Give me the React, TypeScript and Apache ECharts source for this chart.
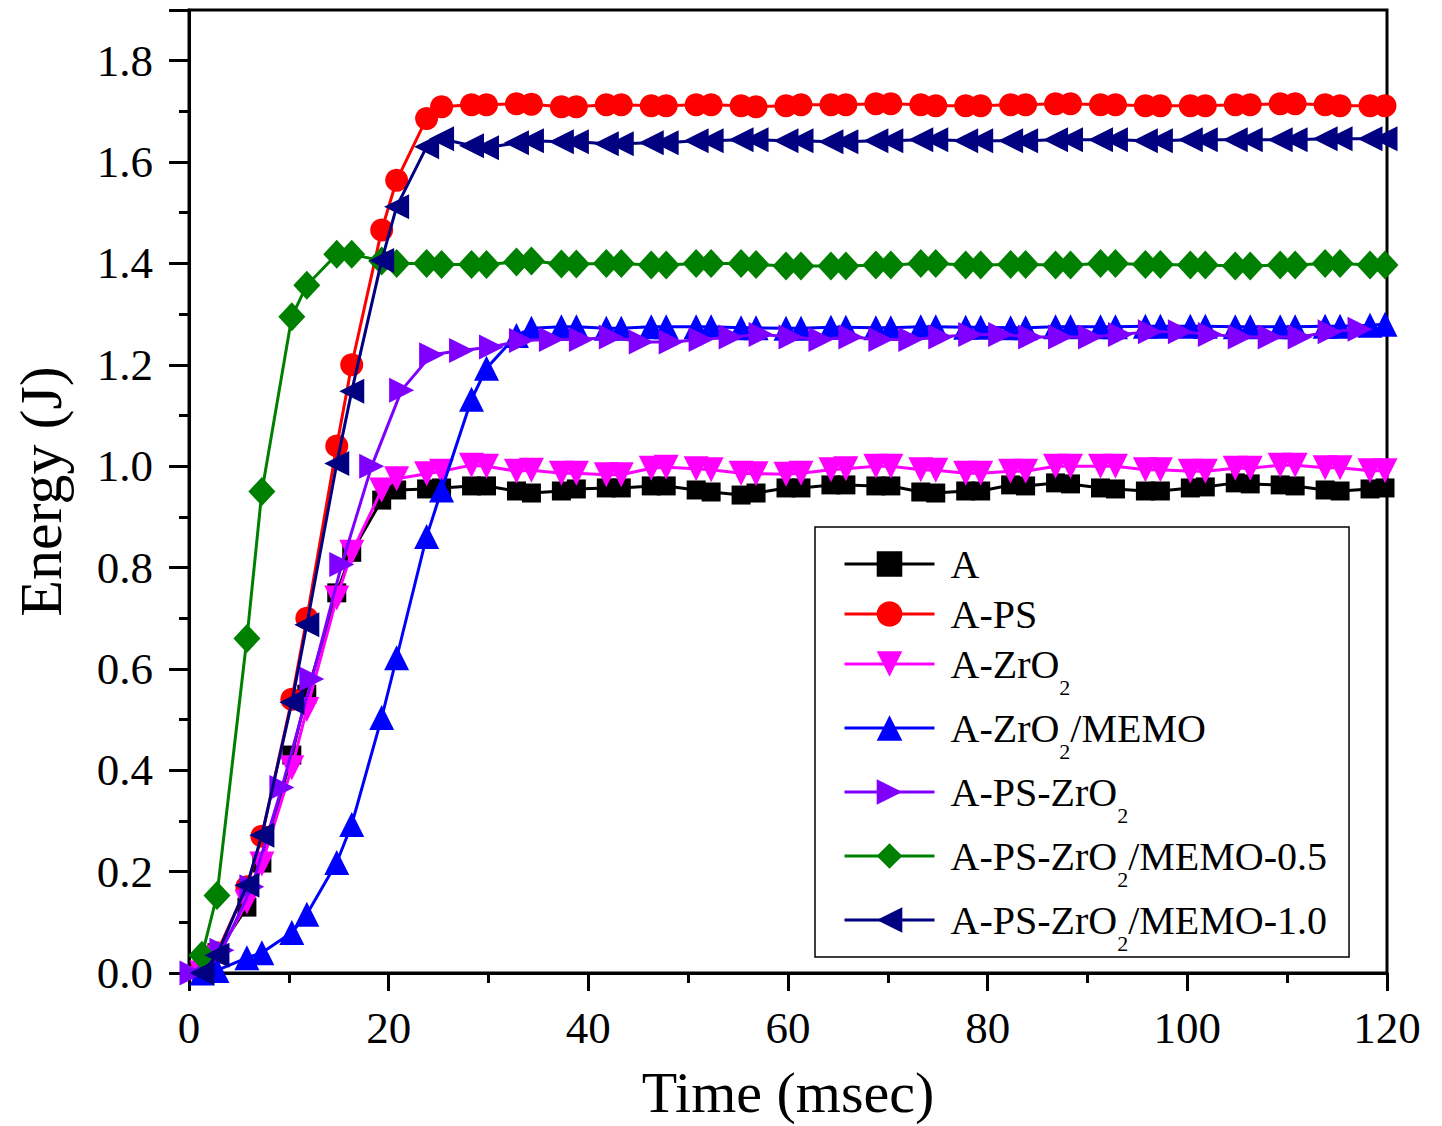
import React, { useEffect, useRef } from "react";
import * as echarts from "echarts";

const seriesNames = [
  "A",
  "A-PS",
  "A-ZrO2",
  "A-ZrO2/MEMO",
  "A-PS-ZrO2",
  "A-PS-ZrO2/MEMO-0.5",
  "A-PS-ZrO2/MEMO-1.0",
];

const colors = ["#000000", "#FF0000", "#FF00FF", "#0000FF", "#8000FF", "#008000", "#000080"];

// time (msec) of sampled points
const timePairs = [
  1.3, 2.8, 5.8, 7.3, 10.3, 11.8, 14.8, 16.3, 19.3, 20.8, 23.8, 25.3, 28.3, 29.8,
  32.8, 34.3, 37.3, 38.8, 41.8, 43.3, 46.3, 47.8, 50.8, 52.3, 55.3, 56.8, 59.8, 61.3,
  64.3, 65.8, 68.8, 70.3, 73.3, 74.8, 77.8, 79.3, 82.3, 83.8, 86.8, 88.3, 91.3, 92.8,
  95.8, 97.3, 100.3, 101.8, 104.8, 106.3, 109.3, 110.8, 113.8, 115.3, 118.3, 119.8,
];

const timeUniform = [
  0.3, 3.3, 6.3, 9.3, 12.3, 15.3, 18.3, 21.3, 24.3, 27.3, 30.3, 33.3, 36.3, 39.3,
  42.3, 45.3, 48.3, 51.3, 54.3, 57.3, 60.3, 63.3, 66.3, 69.3, 72.3, 75.3, 78.3, 81.3,
  84.3, 87.3, 90.3, 93.3, 96.3, 99.3, 102.3, 105.3, 108.3, 111.3, 114.3, 117.3,
];

const energyA = [
  0.005, 0.04, 0.13, 0.217, 0.43, 0.55, 0.75, 0.83, 0.933, 0.953, 0.955, 0.957, 0.961, 0.961,
  0.951, 0.947, 0.951, 0.955, 0.957, 0.957, 0.961, 0.961, 0.953, 0.949, 0.943, 0.947, 0.957, 0.957,
  0.963, 0.963, 0.961, 0.961, 0.949, 0.947, 0.951, 0.951, 0.963, 0.961, 0.967, 0.965, 0.957, 0.955,
  0.951, 0.951, 0.957, 0.959, 0.967, 0.965, 0.963, 0.961, 0.953, 0.951, 0.955, 0.957,
];

const energyAPS = [
  0.01, 0.04, 0.17, 0.27, 0.54, 0.70, 1.04, 1.20, 1.466, 1.564, 1.686, 1.709, 1.713, 1.713,
  1.715, 1.714, 1.709, 1.709, 1.713, 1.713, 1.711, 1.711, 1.713, 1.713, 1.711, 1.709, 1.711, 1.713,
  1.713, 1.713, 1.715, 1.715, 1.713, 1.711, 1.711, 1.711, 1.713, 1.713, 1.715, 1.715, 1.713, 1.713,
  1.711, 1.711, 1.711, 1.711, 1.713, 1.713, 1.715, 1.715, 1.713, 1.711, 1.711, 1.711,
];

const energyAZrO2 = [
  0.0, 0.03, 0.14, 0.215, 0.405, 0.52, 0.74, 0.83, 0.953, 0.975, 0.985, 0.99, 1.002, 1.0,
  0.99, 0.992, 0.986, 0.986, 0.983, 0.983, 0.996, 0.998, 0.995, 0.993, 0.986, 0.985, 0.984, 0.986,
  0.993, 0.995, 1.0, 1.0, 0.993, 0.992, 0.986, 0.986, 0.99, 0.99, 1.0, 1.0, 1.0, 1.0,
  0.993, 0.993, 0.99, 0.99, 0.996, 0.996, 1.002, 1.002, 0.997, 0.997, 0.991, 0.991,
];

const energyAZrO2MEMO = [
  0.0, 0.005, 0.03, 0.04, 0.08, 0.116, 0.218, 0.293, 0.504, 0.622, 0.861, 0.953, 1.132, 1.193,
  1.258, 1.272, 1.275, 1.275, 1.272, 1.272, 1.275, 1.275, 1.275, 1.275, 1.273, 1.273, 1.272, 1.272,
  1.274, 1.274, 1.273, 1.273, 1.275, 1.275, 1.274, 1.274, 1.273, 1.273, 1.275, 1.275, 1.275, 1.275,
  1.276, 1.276, 1.276, 1.276, 1.275, 1.275, 1.275, 1.275, 1.276, 1.276, 1.278, 1.28,
];

const energyAPSZrO2 = [
  0.0, 0.045, 0.17, 0.366, 0.58, 0.806, 1.0, 1.15, 1.22, 1.228, 1.235, 1.248, 1.25, 1.25,
  1.255, 1.245, 1.245, 1.25, 1.255, 1.26, 1.255, 1.25, 1.255, 1.25, 1.25, 1.255, 1.26, 1.26,
  1.255, 1.255, 1.255, 1.26, 1.265, 1.265, 1.26, 1.255, 1.255, 1.255, 1.265, 1.27,
];

const energyMEMO05 = [
  0.035, 0.153, 0.66, 0.95, 1.295, 1.357, 1.418, 1.418, 1.405, 1.4, 1.4, 1.398, 1.398, 1.398,
  1.403, 1.405, 1.399, 1.399, 1.4, 1.4, 1.397, 1.397, 1.4, 1.4, 1.4, 1.398, 1.395, 1.395,
  1.395, 1.395, 1.397, 1.397, 1.4, 1.4, 1.397, 1.397, 1.398, 1.398, 1.397, 1.397, 1.4, 1.4,
  1.398, 1.398, 1.397, 1.397, 1.395, 1.395, 1.397, 1.397, 1.4, 1.4, 1.397, 1.397,
];

const energyMEMO10 = [
  0.0, 0.035, 0.173, 0.272, 0.534, 0.687, 1.005, 1.148, 1.406, 1.512, 1.63, 1.646, 1.632, 1.628,
  1.638, 1.642, 1.64, 1.64, 1.636, 1.636, 1.638, 1.638, 1.642, 1.642, 1.644, 1.644, 1.642, 1.642,
  1.64, 1.64, 1.642, 1.642, 1.644, 1.644, 1.642, 1.642, 1.642, 1.642, 1.644, 1.644, 1.644, 1.644,
  1.642, 1.642, 1.644, 1.644, 1.644, 1.644, 1.644, 1.644, 1.646, 1.646, 1.646, 1.646,
];

const xTicks = [0, 20, 40, 60, 80, 100, 120];
const yTicks = [0, 0.2, 0.4, 0.6, 0.8, 1.0, 1.2, 1.4, 1.6, 1.8];

const seriesData = [energyA, energyAPS, energyAZrO2, energyAZrO2MEMO, energyAPSZrO2, energyMEMO05, energyMEMO10];
const seriesTimes = [timePairs, timePairs, timePairs, timePairs, timeUniform, timePairs, timePairs];
const symbols = ["rect", "circle", "triangle", "triangle", "triangle", "diamond", "triangle"];
const symbolRotates = [0, 0, 180, 0, -90, 0, 90];
const symbolSizes: any[] = [19, 23, 25, 25, 25, [27, 29], 25];

const FONT = "Liberation Serif, Times New Roman, serif";

export default function App() {
  const ref = useRef<HTMLDivElement>(null);
  useEffect(() => {
    if (!ref.current) return;
    const chart = echarts.init(ref.current, null, { renderer: "svg" });
    const series = seriesNames.map((name, i) => ({
      name,
      type: "line",
      data: seriesData[i].map((v, j) => [seriesTimes[i][j], v]),
      symbol: symbols[i],
      symbolSize: symbolSizes[i],
      symbolRotate: symbolRotates[i],
      showAllSymbol: true,
      clip: true,
      lineStyle: { color: colors[i], width: 3 },
      itemStyle: { color: colors[i] },
      emphasis: { disabled: true },
      z: 2 + i,
    }));
    chart.setOption({
      animation: false,
      backgroundColor: "#ffffff",
      grid: {
        left: 189,
        right: 55,
        top: 10,
        bottom: 150,
        show: true,
        borderColor: "#000",
        borderWidth: 3,
        containLabel: false,
      },
      xAxis: {
        type: "value",
        min: xTicks[0],
        max: xTicks[xTicks.length - 1],
        interval: 20,
        name: "Time (msec)",
        nameLocation: "middle",
        nameGap: 90,
        nameTextStyle: { fontFamily: FONT, fontSize: 58, color: "#000" },
        axisLine: { lineStyle: { color: "#000", width: 3 } },
        axisTick: { show: true, inside: false, length: 18, lineStyle: { color: "#000", width: 3 } },
        minorTick: { show: true, splitNumber: 2, length: 10, lineStyle: { color: "#000", width: 3 } },
        splitLine: { show: false },
        axisLabel: { fontFamily: FONT, fontSize: 45, color: "#000", margin: 32 },
      },
      yAxis: {
        type: "value",
        min: 0,
        max: 1.9,
        interval: 0.2,
        name: "Energy (J)",
        nameLocation: "middle",
        nameGap: 118,
        nameTextStyle: { fontFamily: FONT, fontSize: 60, color: "#000" },
        axisLine: { show: true, lineStyle: { color: "#000", width: 3 } },
        axisTick: { show: true, inside: false, length: 20, lineStyle: { color: "#000", width: 3 } },
        minorTick: { show: true, splitNumber: 2, length: 10, lineStyle: { color: "#000", width: 3 } },
        splitLine: { show: false },
        axisLabel: {
          fontFamily: FONT,
          fontSize: 45,
          color: "#000",
          margin: 36,
          showMaxLabel: false,
          formatter: (v: number) => (yTicks.some((t) => Math.abs(t - v) < 1e-6) ? v.toFixed(1) : ""),
        },
      },
      legend: {
        orient: "vertical",
        left: 815,
        top: 527,
        data: seriesNames,
        itemWidth: 90,
        itemHeight: 32,
        itemGap: 10,
        padding: [17, 22, 3, 28],
        borderColor: "#000",
        borderWidth: 1.5,
        backgroundColor: "#fff",
        selectedMode: false,
        lineStyle: { width: 3 },
        formatter: (name: string) => name.replace("ZrO2", "ZrO{sub|2}"),
        textStyle: {
          fontFamily: FONT,
          fontSize: 40,
          lineHeight: 40,
          color: "#000",
          padding: [0, 0, 0, 11],
          rich: {
            sub: {
              fontFamily: FONT,
              fontSize: 22,
              lineHeight: 22,
              verticalAlign: "top",
              padding: [32, 0, 0, 0],
              color: "#000",
            },
          },
        },
      },
      series,
    });
    return () => chart.dispose();
  }, []);
  return <div ref={ref} style={{ position: "absolute", left: 0, top: 0, width: 1442, height: 1126 }} />;
}
